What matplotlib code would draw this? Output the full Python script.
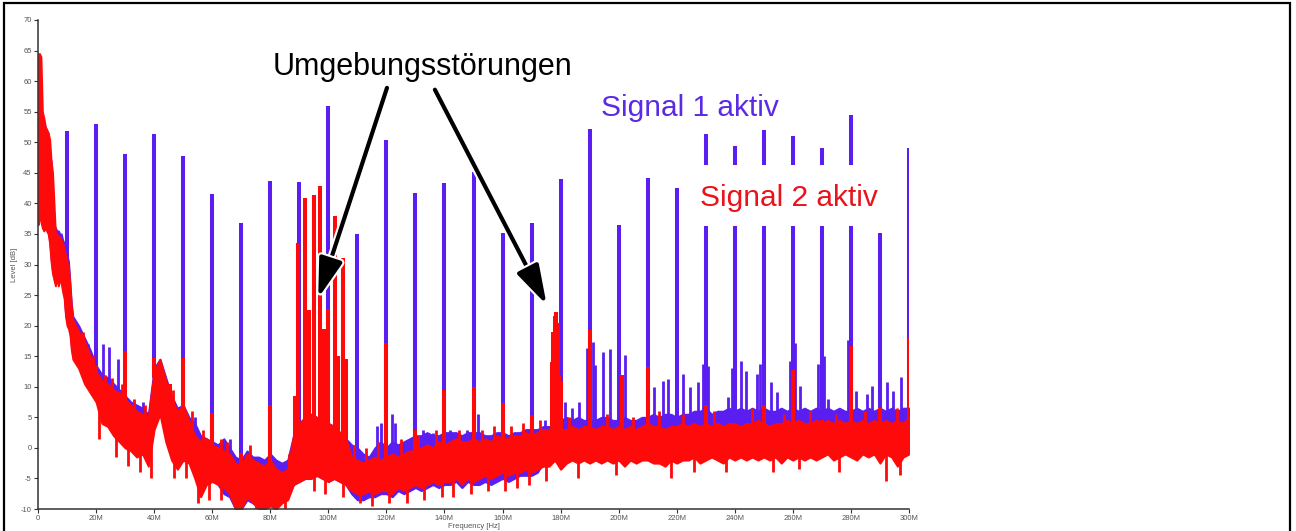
import numpy as np
import matplotlib
matplotlib.use("Agg")
import matplotlib.pyplot as plt
from matplotlib.patches import Rectangle, FancyArrowPatch
import matplotlib.patheffects as pe

plt.rcParams['font.family'] = ['Liberation Sans', 'DejaVu Sans']
plt.rcParams['axes.unicode_minus'] = False

# ---------------- data (MHz, dB) ----------------
# noise-floor envelopes sampled at 0..12 MHz (0.5 MHz step) and 14..300 MHz (2 MHz step)
f_grid = np.concatenate([np.arange(0, 12.5, 0.5), np.arange(14, 301, 2)])

red_top = [64.5, 64.5, 64, 55, 54, 52.5, 52, 51.5, 50.5, 47, 45, 40, 35, 35, 34.5, 34.5, 34, 33.5, 32.5, 31.5, 30.5, 29.5, 26.5, 23, 21,
           19, 17.5, 15, 12.5, 11, 10.5, 9.5, 9, 8, 7, 6, 5.5, 5, 12.5, 14.5, 11, 8, 6, 7, 4.5,
           2, 1, 1.5, 0.5, 0, -0.5, -1, -2.5, -3, -1, -2, -2.5, -3, -2, -3.5, -4, -3.5, 2, 4, 5,
           5.5, 5, 4.5, 4, 3.5, 2.5, 1.5, -1.5, -2, -2.5, -2, -1.5, -2, -1.5, -1, -1.5, -1, -0.5, -0.5, 0,
           0.5, 0, 1, 0.5, 1, 1.5, 1, 1, 1.5, 1, 1.5, 1, 2, 1.5, 1.5, 2, 2, 2.5, 2, 2.5,
           3, 3, 3.5, 3, 3, 3.5, 3, 3.5, 3.5, 3, 3.5, 3.5, 3, 3.5, 3, 3.5, 3, 3.5, 4, 3.5,
           3.5, 3, 3.5, 3.5, 4, 3.5, 4, 3.5, 4, 3.5, 4, 3.5, 4, 4, 3.5, 4, 4, 4.5, 4, 3.5,
           4, 4, 4.5, 4, 4.5, 4, 4, 4.5, 4, 4.5, 4, 4.5, 4, 4.5, 4, 4.5, 4, 4.5, 4, 4.5, 4, 4.5, 4, 5]
red_bot = [36.5, 38, 37, 36, 35.5, 36, 35.5, 35, 33.5, 30.5, 28.5, 27.5, 26.5, 28, 26.5, 27.5, 27, 25.5, 24.5, 21.5, 20, 19.5, 18.5, 16, 14.5,
           13, 10.5, 9, 7.5, 4, 3.5, 2, 1, 0, -0.5, -1.5, -1, -3, 3, 5.5, 1, -2, -3.5, -2, -2.5,
           -5, -8, -6, -5.5, -6, -6.5, -7.5, -10, -10, -8, -9, -10, -10, -9.5, -10, -9, -8.5, -6, -5.5, -5,
           -5, -4.5, -5, -5.5, -5, -5.5, -6, -7, -7.5, -7.5, -7, -7.5, -7, -7, -7.5, -6.5, -7, -6.5, -6, -6.5,
           -6, -5.5, -6, -5.5, -5.5, -5, -6, -5, -5.5, -5, -4.5, -5, -4.5, -4, -4.5, -4, -4, -3.5, -4, -3.5,
           -3, -3, -2, -3.5, -2.5, -2, -2.5, -2, -2.5, -2, -2.5, -2, -2.5, -2, -3, -2, -2.5, -2, -2, -2.5,
           -2.5, -3, -2, -2.5, -2, -2, -1.5, -2.5, -2, -1.5, -2, -2.5, -1.5, -2, -1.5, -2, -1.5, -2, -1.5, -2,
           -1.5, -2.5, -1.5, -2, -1.5, -2, -1.5, -2, -1.5, -1, -2, -1.5, -1, -1.5, -2, -1, -1.5, -1, -2.5, -1, -1.5, -3, -1.5, -1]
blue_top = [55, 54.5, 54, 54, 53.5, 52.5, 52, 51.5, 47.5, 47, 37.5, 36.5, 36, 35.5, 35.5, 35, 35, 34, 33.5, 33, 31.5, 30.5, 27, 23.5, 21.5,
            20, 18, 16, 13.5, 12, 11.5, 10.5, 9.5, 8.5, 7.5, 7, 6.5, 5.5, 13, 14.5, 11.5, 8.5, 6.5, 7, 5,
            4, 2, 1.5, 1, 0.5, 1.5, 0, -1.5, -2, -0.5, -1.5, -1.5, -2, -1, -2, -2.5, -2, 2, 4, 5,
            5.5, 5, 4.5, 4, 3.5, 2.5, 1.5, 0.5, 0, -1, -1.5, 0, 1, 0, 1, 0.5, 1, 1.5, 2, 2,
            2.5, 2, 2, 2.5, 2.5, 2.5, 2, 2.5, 2.5, 2.5, 2, 2, 2.5, 2.5, 2, 2.5, 2.5, 3, 3, 3,
            3.5, 3.5, 3.5, 4.5, 5, 4.5, 5, 4.5, 4.5, 4.5, 5, 5, 4.5, 4.5, 5, 4.5, 4.5, 5, 5, 5.5,
            5, 5.5, 5.5, 5, 5.5, 5.5, 6, 6, 6.5, 5.5, 6, 6, 6.5, 6, 6.5, 6, 6.5, 6, 6.5, 6,
            6, 6.5, 6, 6.5, 6, 6.5, 6, 6.5, 6, 6.5, 6, 6.5, 6, 6, 6.5, 6, 6.5, 6, 6.5, 6, 6.5, 6, 6.5, 6.5]
blue_bot = [37, 38.5, 37.5, 36.5, 36, 36.5, 36, 35.5, 34, 31, 29, 28, 27, 28.5, 27, 28, 27.5, 26, 25, 22, 20.5, 20, 19, 16.5, 15,
            13.5, 11, 9.5, 8, 4.5, 4, 2.5, 1.5, 0.5, 0, -1, -0.5, -2.5, 3.5, 6, 1.5, -1.5, -3, -1.5, -2,
            -4.5, -7.5, -5.5, -5, -6, -7.5, -8, -10, -10, -8.5, -9, -9.5, -9.5, -9, -9.5, -8.5, -8, -6, -5.5, -5,
            -5, -4.5, -5, -5.5, -5, -5.5, -6, -7.5, -8.5, -8.5, -8, -8, -7.5, -7.5, -8, -7, -7.5, -7, -6.5, -7,
            -6.5, -6, -6.5, -6, -6, -5.5, -6.5, -5.5, -6, -6, -5.5, -6, -5.5, -5, -5.5, -5, -4.5, -4.5, -4.5, -4,
            -2.5, -2.5, -1.5, -3, -2, -1.5, -2, -1.5, -2, -1.5, -2, -1.5, -2, -1.5, -2.5, -1.5, -2, -1.5, -1.5, -2,
            -2, -2.5, -1.5, -2, -1.5, -1.5, -1, -2, -1.5, -1, -1.5, -2, -1, -1.5, -1, -1.5, -1, -1.5, -1, -1.5,
            -1, -2, -1, -1.5, -1, -1.5, -1, -1.5, -1, -0.5, -1.5, -1, -0.5, -1, -1.5, -0.5, -1, -0.5, -2, -0.5, -1, -2.5, -1, -0.5]

# Signal 1 harmonics (blue)
harm_freq = [10, 20, 30, 40, 50, 60, 70, 80, 90, 100, 110, 120, 130, 140, 150,
             160, 170, 180, 190, 200, 210, 220, 230, 240, 250, 260, 270, 280, 290, 300]
harm_blue = [51.9, 53.0, 48.0, 51.4, 47.8, 41.5, 36.8, 43.6, 43.5, 56.0, 35.0, 50.4, 41.7, 43.4, 45.2,
             35.2, 36.8, 44.0, 52.2, 36.4, 44.2, 42.5, 51.3, 49.4, 52.0, 51.0, 49.0, 54.4, 35.2, 49.0]
# Signal 1 small spurs (blue)
spur_blue_f = [15.1, 17.2, 22.3, 24.4, 27.5, 34, 36, 54.2, 66, 74.7, 116.6, 118.3, 121.8, 122.9, 132.7, 134.4,
               136.1, 141.9, 144.8, 147.6, 151.7, 174.6, 181.5, 184, 186.5, 189, 191, 192, 194.7, 197, 202.2,
               212, 215.4, 217.1, 222.3, 224.5, 227.4, 229.1, 230.8, 237.7, 239, 242.3, 244, 247.5, 248.6,
               252.6, 254.4, 259, 260.7, 262.4, 268.7, 270.7, 272.2, 279.1, 281.9, 285.4, 287.1, 292.3, 294.6, 297.4]
spur_blue_v = [16.5, 17.0, 17.0, 16.5, 14.5, 7.0, 7.5, 5.0, 1.5, -1.5, 3.5, 4.0, 5.5, 4.0, 3.0, 2.5,
               2.5, 3.0, 2.5, 3.0, 5.5, 4.5, 7.5, 6.5, 7.5, 16.4, 17.4, 13.6, 15.7, 16.2, 15.2,
               10.0, 11.0, 11.2, 12.1, 10.0, 10.8, 13.7, 13.4, 8.3, 13.0, 14.2, 12.6, 12.1, 13.7,
               10.8, 9.1, 14.2, 17.2, 10.2, 13.7, 15.0, 8.0, 17.7, 9.3, 8.8, 10.2, 10.8, 9.3, 11.6]

# Signal 2 peaks (red)
peak_red_f = [20, 30, 40, 45.5, 50, 60, 70, 80, 88.6, 89.5, 92, 93.5, 95, 97, 98.5, 100, 102.3, 103.5, 104.9, 106,
              120, 130, 140, 150, 160, 170, 177, 177.5, 178, 178.5, 179, 179.5, 180, 190, 201, 210,
              230, 250, 260, 270, 280, 290, 300]
peak_red_v = [13.4, 15.8, 14.7, 10.5, 14.7, 5.7, -0.8, 7.0, 8.5, 33.5, 40.9, 22.5, 41.3, 42.9, 19.5, 22.7, 38.0, 15.0, 31.1, 14.5,
              17.1, 2.9, 9.5, 10.0, 7.3, 5.4, 14.0, 19.0, 21.5, 22.3, 20.5, 12.0, 11.0, 19.3, 12.0, 13.3,
              7.0, 7.0, 12.7, 4.6, 16.6, 6.6, 18.0]
# Signal 2 small upward spurs and downward dips of the noise floor (red)
spur_red_f = [15.5, 19, 23, 25.5, 29, 33, 37, 46.5, 53, 57, 63, 65, 73, 86.5, 109, 113, 117, 125, 131, 137,
              145, 153, 157, 163, 167, 173, 183, 196, 205, 214, 222, 233, 246, 257, 266, 275, 285, 296]
spur_red_v = [19, 15, 12, 11.5, 10.5, 8, 7, 9.5, 6, 3, 1.5, 1, 0.5, -1, 0.5, 0, 1, 1.5, 2, 3,
              3, 3, 3.5, 3.5, 4, 4.5, 5.0, 5.5, 5.0, 6.0, 5.5, 6.0, 6.5, 5.5, 6.0, 5.5, 6.0, 6.5]
dip_red_f = [21, 27, 31, 35, 39, 47, 51, 55, 59, 63, 75, 85, 95, 99, 105, 111, 115, 121, 127, 133,
             139, 143, 149, 155, 161, 165, 169, 175, 186, 199, 218, 226, 237, 253, 262, 276, 292, 297]
dip_red_v = [1.5, -1.5, -3, -4, -5, -5, -5, -9, -8.5, -8.5, -10, -10, -7, -7.5, -8, -9, -9.5, -9, -9, -8.5,
             -8, -8, -7.5, -7, -7, -6.5, -6, -5.5, -5.0, -4.5, -5.0, -4.0, -4.0, -4.0, -3.5, -4.0, -5.5, -4.5]

x_ticks = [0, 20, 40, 60, 80, 100, 120, 140, 160, 180, 200, 220, 240, 260, 280, 300]
x_tick_labels = ["0", "20M", "40M", "60M", "80M", "100M", "120M", "140M", "160M", "180M",
                 "200M", "220M", "240M", "260M", "280M", "300M"]
y_ticks = list(range(-10, 71, 5))

BLUE = '#5a1ef0'
RED = '#ff0a0a'

# ---------------- figure ----------------
W, H = 1296, 531
fig = plt.figure(figsize=(W / 100, H / 100), dpi=100)
ax = fig.add_axes([38 / W, 22 / H, 871 / W, 489 / H])
ax.set_xlim(0, 300)
ax.set_ylim(-10, 70)

fg = np.asarray(f_grid, dtype=float)
bt = np.asarray(blue_top, dtype=float)
bb = np.asarray(blue_bot, dtype=float)
rt = np.asarray(red_top, dtype=float)
rb = np.asarray(red_bot, dtype=float)

# Signal 1 (blue)
ax.fill_between(fg, bb, bt, facecolor=BLUE, edgecolor=BLUE, lw=1.4, zorder=1)
hf = np.asarray(harm_freq, float)
ax.vlines(hf, np.interp(hf, fg, bt) - 1, harm_blue, colors=BLUE, lw=2.9, zorder=1.5)
sf = np.asarray(spur_blue_f, float)
ax.vlines(sf, np.interp(sf, fg, bt) - 1, spur_blue_v, colors=BLUE, lw=2.0, zorder=1.5)

# Signal 2 (red)
ax.fill_between(fg, rb, rt, facecolor=RED, edgecolor=RED, lw=1.4, zorder=2)
pf = np.asarray(peak_red_f, float)
ax.vlines(pf, np.interp(pf, fg, rt) - 1, peak_red_v, colors=RED, lw=2.9, zorder=2.5)
rf = np.asarray(spur_red_f, float)
ax.vlines(rf, np.interp(rf, fg, rt) - 1, spur_red_v, colors=RED, lw=2.0, zorder=2.5)
df = np.asarray(dip_red_f, float)
ax.vlines(df, dip_red_v, np.interp(df, fg, rb) + 1, colors=RED, lw=2.0, zorder=2.5)

# white gap behind "Signal 2 aktiv"
ax.add_patch(Rectangle((226.5, 36.3), 62.5, 10.0, facecolor='white', edgecolor='none', zorder=3))

# axes styling
for s in ['top', 'right']:
    ax.spines[s].set_visible(False)
for s in ['left', 'bottom']:
    ax.spines[s].set_color('#333333')
    ax.spines[s].set_linewidth(1.1)
ax.set_xticks(x_ticks)
ax.set_xticklabels(x_tick_labels)
ax.set_yticks(y_ticks)
ax.tick_params(labelsize=5.5, colors='#333333', labelcolor='#555555', length=3, width=0.8, pad=1.5)
ax.set_xlabel('Frequency [Hz]', fontsize=5.5, color='#555555', labelpad=0.5)
ax.set_ylabel('Level [dB]', fontsize=5.5, color='#555555', labelpad=2)

# annotations
ax.text(80.9, 61.0, 'Umgebungsstörungen', fontsize=22, color='black', ha='left', va='baseline', zorder=5)
ax.text(193.9, 54.3, 'Signal 1 aktiv', fontsize=21.5, color='#5a2ae6', ha='left', va='baseline', zorder=5)
ax.text(228.0, 39.5, 'Signal 2 aktiv', fontsize=21.5, color='#e8141c', ha='left', va='baseline', zorder=5)

for start, end in [((120.2, 58.9), (96.5, 24.5)), ((136.7, 58.6), (175.2, 23.4))]:
    arr = FancyArrowPatch(start, end, arrowstyle='-|>,head_length=1.2,head_width=0.36',
                          mutation_scale=20, lw=3, color='black', shrinkA=0, shrinkB=0,
                          zorder=6, clip_on=False)
    arr.set_path_effects([pe.Stroke(linewidth=6, foreground='white'), pe.Normal()])
    ax.add_patch(arr)

# outer frame
fig.add_artist(Rectangle((4 / W, -0.05), 1286 / W, 1.05 - 3.5 / H, transform=fig.transFigure,
                         fill=False, edgecolor='black', lw=1.6))

fig.savefig('out.png', dpi=100)
